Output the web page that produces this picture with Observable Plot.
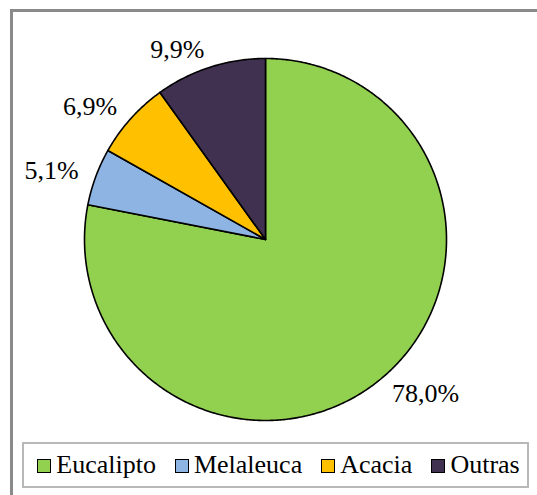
<!DOCTYPE html>
<html>
<head>
<meta charset="utf-8">
<script src="https://cdn.jsdelivr.net/npm/d3@7"></script>
<script src="https://cdn.jsdelivr.net/npm/@observablehq/plot@0.6"></script>
<style>
  html, body { margin: 0; padding: 0; background: #fff; }
  body { width: 537px; height: 495px; overflow: hidden; position: relative; font-family: 'Liberation Serif'; }
  #frame { position: absolute; left: 10px; top: 9px; width: 600px; height: 600px; border: 3px solid #8a8a8a; box-sizing: border-box; }
  #chart { position: absolute; left: 0; top: 0; }
  #legend { position: absolute; left: 22px; top: 442px; width: 507px; height: 46px; box-sizing: border-box;
            border: 2px solid #b8b8b8; background: #fff; display: flex; align-items: center; justify-content: center;
            font-family: 'Liberation Serif'; font-size: 26px; color: #000; padding-left: 6px; }
  .item { display: flex; align-items: center; margin: 0 9.5px; font-family: 'Liberation Serif'; }
  .sw { width: 14px; height: 14px; box-sizing: border-box; border: 1.6px solid #000; margin-right: 5px; margin-top: 2px; }
</style>
</head>
<body>
<div id="frame"></div>
<div id="chart"></div>
<div id="legend"></div>
<script>
const categories = ["Eucalipto", "Melaleuca", "Acacia", "Outras"];
const values = [78.0, 5.1, 6.9, 9.9];
const colors = ["#92D050", "#8DB4E2", "#FFC000", "#403151"];

const data = categories.map((name, i) => ({name, value: values[i]}));
const arcs = d3.pie().sort(null).value(d => d.value).startAngle(0).endAngle(2 * Math.PI)(data);

// polygon points for each slice (angle measured clockwise from 12 o'clock)
const points = [];
for (const a of arcs) {
  const name = a.data.name;
  points.push({name, x: 0, y: 0});
  const n = Math.max(2, Math.ceil((a.endAngle - a.startAngle) / (Math.PI / 360)));
  for (let k = 0; k <= n; k++) {
    const t = a.startAngle + (a.endAngle - a.startAngle) * k / n;
    points.push({name, x: Math.sin(t), y: Math.cos(t)});
  }
}

const labels = arcs.map(a => {
  const m = (a.startAngle + a.endAngle) / 2;
  return {
    name: a.data.name,
    x: 1.1 * Math.sin(m),
    y: 1.1 * Math.cos(m),
    right: Math.sin(m) >= 0,
    text: a.data.value.toFixed(1).replace(".", ",") + "%"
  };
});

const textStyle = {fontSize: 26, fontFamily: "'Liberation Serif'", fill: "#000", lineAnchor: "middle"};

const chart = Plot.plot({
  width: 537,
  height: 440,
  margin: 0,
  x: {domain: [-1, 1], range: [84, 446], axis: null},
  y: {domain: [-1, 1], range: [420, 58], axis: null},
  color: {domain: categories, range: colors},
  style: {background: "transparent", overflow: "visible", fontFamily: "'Liberation Serif'"},
  marks: [
    Plot.line(points, {x: "x", y: "y", z: "name", fill: "name", stroke: "#000", strokeWidth: 1.6, strokeLinejoin: "round", curve: "linear-closed"}),
    Plot.text(labels.filter(d => d.right), {x: "x", y: "y", text: "text", textAnchor: "start", ...textStyle}),
    Plot.text(labels.filter(d => !d.right), {x: "x", y: "y", text: "text", textAnchor: "end", ...textStyle})
  ]
});
document.getElementById("chart").appendChild(chart);

const legend = document.getElementById("legend");
categories.forEach((c, i) => {
  const item = document.createElement("div");
  item.className = "item";
  const sw = document.createElement("div");
  sw.className = "sw";
  sw.style.background = colors[i];
  const tx = document.createElement("span");
  tx.textContent = c;
  item.appendChild(sw);
  item.appendChild(tx);
  legend.appendChild(item);
});
</script>
</body>
</html>
